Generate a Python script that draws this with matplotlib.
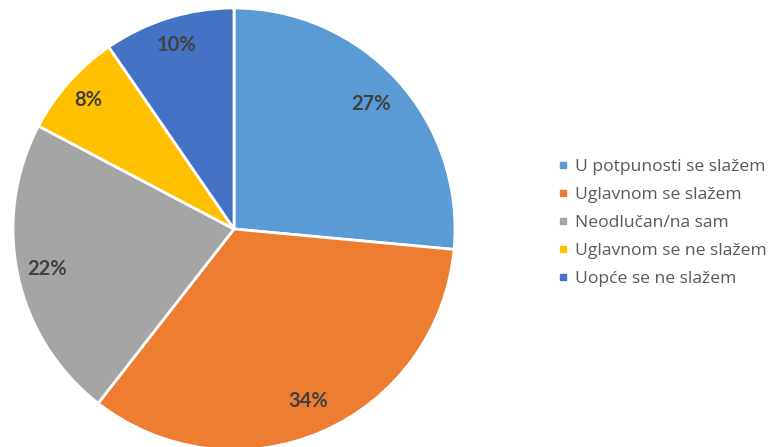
import matplotlib
matplotlib.use("Agg")
import matplotlib.pyplot as plt
from matplotlib.lines import Line2D
import numpy as np

categories = ["U potpunosti se slažem", "Uglavnom se slažem", "Neodlučan/na sam",
              "Uglavnom se ne slažem", "Uopće se ne slažem"]
values = [26.5, 34.1, 22.2, 7.7, 9.6]
pct_labels = ["27%", "34%", "22%", "8%", "10%"]
colors = ["#5B9BD5", "#ED7D31", "#A5A5A5", "#FFC000", "#4472C4"]
label_dist = [0.84, 0.85, 0.865, 0.88, 0.87]

plt.rcParams['font.family'] = ['Lato', 'DejaVu Sans']

W, H = 768, 447
fig = plt.figure(figsize=(W / 100, H / 100), dpi=100)
cx, cy, r = 234, 229, 221
ax = fig.add_axes([(cx - r) / W, (H - cy - r) / H, 2 * r / W, 2 * r / H])
wedges, _ = ax.pie(values, colors=colors, startangle=90, counterclock=False,
                   wedgeprops=dict(edgecolor="white", linewidth=2))
ax.set_xlim(-1, 1)
ax.set_ylim(-1, 1)
ax.set_aspect("equal")
ax.axis("off")

for w, lab, d in zip(wedges, pct_labels, label_dist):
    ang = np.deg2rad((w.theta1 + w.theta2) / 2)
    ax.text(d * np.cos(ang), d * np.sin(ang), lab, ha="center", va="center",
            fontsize=14.5, fontweight="bold", color="#404040")

handles = [Line2D([], [], marker="s", linestyle="none", markersize=4.8,
                  markerfacecolor=c, markeredgecolor=c) for c in colors]
fig.legend(handles, categories, loc="center left", bbox_to_anchor=(558 / W, 1 - 223 / H),
           frameon=False, prop={"family": ["Open Sans", "DejaVu Sans"], "size": 12.6},
           labelcolor="#595959", handlelength=0.6,
           handletextpad=0.35, labelspacing=0.68, borderpad=0, borderaxespad=0)

fig.savefig("out.png", dpi=100)
